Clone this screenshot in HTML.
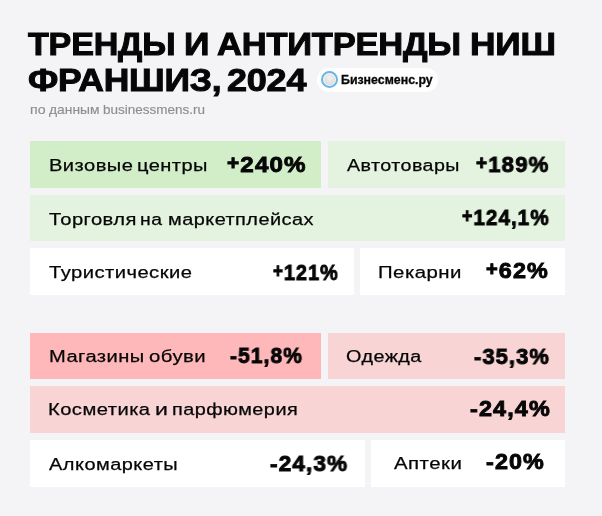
<!DOCTYPE html><html><head><meta charset="utf-8"><style>

html,body{margin:0;padding:0;}
body{width:602px;height:516px;background:#f4f4f7;position:relative;overflow:hidden;font-family:"Liberation Sans",sans-serif;color:#111;}
.b{position:absolute;}
.t{position:absolute;white-space:nowrap;line-height:0;transform-origin:0 0;will-change:transform;}


.pill{position:absolute;left:316.8px;top:68px;width:121.5px;height:23.5px;border-radius:11.75px;background:#fefefe;}
.logo{position:absolute;left:320.5px;top:70.8px;width:17.6px;height:17.6px;border-radius:50%;box-sizing:border-box;border:2.3px solid #68b6e8;background:#fdf8f6;}
.logo i{position:absolute;left:1.3px;top:1.3px;right:1.3px;bottom:1.3px;border-radius:50%;background:radial-gradient(circle at 50% 35%,#f2f2f2 0%,#e4e4e4 50%,#d4d4d4 100%);}

</style></head><body>
<div class="b" style="left:30px;top:141px;width:291px;height:47px;background:#d1eec9"></div>
<div class="b" style="left:328px;top:141px;width:237px;height:47px;background:#e4f3df"></div>
<div class="b" style="left:30px;top:194.6px;width:535px;height:46.599999999999994px;background:#e4f3df"></div>
<div class="b" style="left:30px;top:248px;width:323.5px;height:47px;background:#ffffff"></div>
<div class="b" style="left:359.5px;top:248px;width:205.5px;height:47px;background:#ffffff"></div>
<div class="b" style="left:30px;top:333px;width:291px;height:46px;background:#ffb8b9"></div>
<div class="b" style="left:328px;top:333px;width:237px;height:46px;background:#f9d4d5"></div>
<div class="b" style="left:30px;top:386px;width:535px;height:47px;background:#f9d4d5"></div>
<div class="b" style="left:30px;top:439.5px;width:335px;height:47.0px;background:#ffffff"></div>
<div class="b" style="left:370.7px;top:439.5px;width:194.3px;height:47.0px;background:#ffffff"></div>
<div class="pill"></div><div class="logo"><i></i></div>
<div class="t" id="t1a" style="left:28.46px;top:43.82px;font-size:32.27px;font-weight:700;color:#060606;letter-spacing:-0.2px;-webkit-text-stroke:1.00px #060606;transform:scaleX(1.0564)" >ТРЕНДЫ</div>
<div class="t" id="t1b" style="left:183.56px;top:43.81px;font-size:32.27px;font-weight:700;color:#060606;letter-spacing:-0.2px;-webkit-text-stroke:1.00px #060606;transform:scaleX(1.0986)" >И</div>
<div class="t" id="t1c" style="left:217.17px;top:43.81px;font-size:32.27px;font-weight:700;color:#060606;letter-spacing:-0.2px;-webkit-text-stroke:1.00px #060606;transform:scaleX(1.0689)" >АНТИТРЕНДЫ</div>
<div class="t" id="t1d" style="left:469.53px;top:43.81px;font-size:32.27px;font-weight:700;color:#060606;letter-spacing:-0.2px;-webkit-text-stroke:1.00px #060606;transform:scaleX(1.0943)" >НИШ</div>
<div class="t" id="t2a" style="left:28.20px;top:79.61px;font-size:32.27px;font-weight:700;color:#060606;letter-spacing:-0.2px;-webkit-text-stroke:1.00px #060606;transform:scaleX(1.0984)" >ФРАНШИЗ,</div>
<div class="t" id="t2b" style="left:227.19px;top:79.61px;font-size:32.27px;font-weight:700;color:#060606;letter-spacing:-0.2px;-webkit-text-stroke:1.00px #060606;transform:scaleX(1.1164)" >2024</div>
<div class="t" id="suba" style="left:29.59px;top:109.81px;font-size:12.40px;font-weight:400;color:#8e8e90;letter-spacing:0px;-webkit-text-stroke:0.15px #8e8e90;transform:scaleX(1.1398)" >по</div>
<div class="t" id="subb" style="left:49.35px;top:109.81px;font-size:12.40px;font-weight:400;color:#8e8e90;letter-spacing:0px;-webkit-text-stroke:0.15px #8e8e90;transform:scaleX(1.1158)" >данным</div>
<div class="t" id="subc" style="left:103.14px;top:109.81px;font-size:12.40px;font-weight:400;color:#8e8e90;letter-spacing:0px;-webkit-text-stroke:0.15px #8e8e90;transform:scaleX(1.0879)" >businessmens.ru</div>
<div class="t" id="badge" style="left:340.50px;top:79.61px;font-size:12.35px;font-weight:700;color:#060606;letter-spacing:0px;-webkit-text-stroke:0.30px #060606;transform:scaleX(1.0011)" >Бизнесменс.ру</div>
<div class="t" id="r1a1" style="left:49.02px;top:164.91px;font-size:17.25px;font-weight:400;color:#060606;letter-spacing:0.4px;-webkit-text-stroke:0.25px #060606;transform:scaleX(1.1651)" >Визовые</div>
<div class="t" id="r1a2" style="left:136.77px;top:164.91px;font-size:17.25px;font-weight:400;color:#060606;letter-spacing:0.4px;-webkit-text-stroke:0.25px #060606;transform:scaleX(1.1611)" >центры</div>
<div class="t" id="r1an" style="left:227.24px;top:163.91px;font-size:22.82px;font-weight:700;color:#060606;letter-spacing:1.1px;-webkit-text-stroke:0.90px #060606;transform:scaleX(1.0591)" ><span style="font-size:86%;position:relative;top:-2.2px">+</span>240%</div>
<div class="t" id="r1b" style="left:346.95px;top:164.70px;font-size:17.25px;font-weight:400;color:#060606;letter-spacing:0.4px;-webkit-text-stroke:0.25px #060606;transform:scaleX(1.1400)" >Автотовары</div>
<div class="t" id="r1bn" style="left:475.56px;top:163.90px;font-size:22.82px;font-weight:700;color:#060606;letter-spacing:1.1px;-webkit-text-stroke:0.90px #060606;transform:scaleX(0.9743)" ><span style="font-size:86%;position:relative;top:-2.2px">+</span>189%</div>
<div class="t" id="r2a" style="left:48.50px;top:218.60px;font-size:17.25px;font-weight:400;color:#060606;letter-spacing:0.4px;-webkit-text-stroke:0.25px #060606;transform:scaleX(1.1685)" >Торговля</div>
<div class="t" id="r2b" style="left:140.30px;top:218.60px;font-size:17.25px;font-weight:400;color:#060606;letter-spacing:0.4px;-webkit-text-stroke:0.25px #060606;transform:scaleX(1.1238)" >на</div>
<div class="t" id="r2c" style="left:168.23px;top:218.61px;font-size:17.25px;font-weight:400;color:#060606;letter-spacing:0.4px;-webkit-text-stroke:0.25px #060606;transform:scaleX(1.1549)" >маркетплейсах</div>
<div class="t" id="r2n" style="left:461.80px;top:216.60px;font-size:22.82px;font-weight:700;color:#060606;letter-spacing:1.1px;-webkit-text-stroke:0.90px #060606;transform:scaleX(0.9083)" ><span style="font-size:86%;position:relative;top:-2.2px">+</span>124,1%</div>
<div class="t" id="r3a" style="left:49.17px;top:271.82px;font-size:17.25px;font-weight:400;color:#060606;letter-spacing:0.4px;-webkit-text-stroke:0.25px #060606;transform:scaleX(1.1697)" >Туристические</div>
<div class="t" id="r3an" style="left:273.00px;top:271.70px;font-size:22.82px;font-weight:700;color:#060606;letter-spacing:1.1px;-webkit-text-stroke:0.90px #060606;transform:scaleX(0.8716)" ><span style="font-size:86%;position:relative;top:-2.2px">+</span>121%</div>
<div class="t" id="r3b" style="left:378.38px;top:271.91px;font-size:17.25px;font-weight:400;color:#060606;letter-spacing:0.4px;-webkit-text-stroke:0.25px #060606;transform:scaleX(1.1809)" >Пекарни</div>
<div class="t" id="r3bn" style="left:486.28px;top:269.71px;font-size:22.82px;font-weight:700;color:#060606;letter-spacing:1.1px;-webkit-text-stroke:0.90px #060606;transform:scaleX(1.0231)" ><span style="font-size:86%;position:relative;top:-2.2px">+</span>62%</div>
<div class="t" id="r4a1" style="left:49.06px;top:355.90px;font-size:17.25px;font-weight:400;color:#060606;letter-spacing:0.4px;-webkit-text-stroke:0.25px #060606;transform:scaleX(1.1653)" >Магазины</div>
<div class="t" id="r4a2" style="left:148.57px;top:355.90px;font-size:17.25px;font-weight:400;color:#060606;letter-spacing:0.4px;-webkit-text-stroke:0.25px #060606;transform:scaleX(1.1757)" >обуви</div>
<div class="t" id="r4an" style="left:229.56px;top:355.40px;font-size:22.82px;font-weight:700;color:#060606;letter-spacing:1.1px;-webkit-text-stroke:0.90px #060606;transform:scaleX(0.9248)" >-51,8%</div>
<div class="t" id="r4b" style="left:346.10px;top:355.91px;font-size:17.25px;font-weight:400;color:#060606;letter-spacing:0.4px;-webkit-text-stroke:0.25px #060606;transform:scaleX(1.1465)" >Одежда</div>
<div class="t" id="r4bn" style="left:473.57px;top:355.72px;font-size:22.82px;font-weight:700;color:#060606;letter-spacing:1.1px;-webkit-text-stroke:0.90px #060606;transform:scaleX(0.9622)" >-35,3%</div>
<div class="t" id="r5a" style="left:48.23px;top:409.31px;font-size:17.25px;font-weight:400;color:#060606;letter-spacing:0.4px;-webkit-text-stroke:0.25px #060606;transform:scaleX(1.1677)" >Косметика</div>
<div class="t" id="r5b" style="left:155.45px;top:409.31px;font-size:17.25px;font-weight:400;color:#060606;letter-spacing:0.4px;-webkit-text-stroke:0.25px #060606;transform:scaleX(1.3380)" >и</div>
<div class="t" id="r5c" style="left:171.93px;top:409.30px;font-size:17.25px;font-weight:400;color:#060606;letter-spacing:0.4px;-webkit-text-stroke:0.25px #060606;transform:scaleX(1.1524)" >парфюмерия</div>
<div class="t" id="r5n" style="left:470.29px;top:407.71px;font-size:22.82px;font-weight:700;color:#060606;letter-spacing:1.1px;-webkit-text-stroke:0.90px #060606;transform:scaleX(1.0252)" >-24,4%</div>
<div class="t" id="r6a" style="left:48.92px;top:463.50px;font-size:17.25px;font-weight:400;color:#060606;letter-spacing:0.4px;-webkit-text-stroke:0.25px #060606;transform:scaleX(1.1595)" >Алкомаркеты</div>
<div class="t" id="r6an" style="left:269.93px;top:462.81px;font-size:22.82px;font-weight:700;color:#060606;letter-spacing:1.1px;-webkit-text-stroke:0.90px #060606;transform:scaleX(0.9912)" >-24,3%</div>
<div class="t" id="r6b" style="left:394.45px;top:463.41px;font-size:17.25px;font-weight:400;color:#060606;letter-spacing:0.4px;-webkit-text-stroke:0.25px #060606;transform:scaleX(1.1830)" >Аптеки</div>
<div class="t" id="r6bn" style="left:485.57px;top:461.32px;font-size:22.82px;font-weight:700;color:#060606;letter-spacing:1.1px;-webkit-text-stroke:0.90px #060606;transform:scaleX(1.0220)" >-20%</div>
</body></html>
